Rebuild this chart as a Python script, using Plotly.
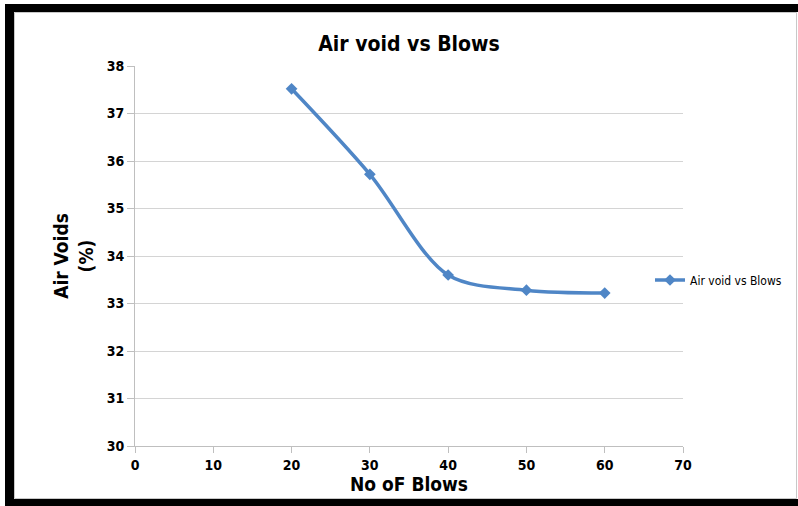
import plotly.graph_objects as go

blows = [20, 30, 40, 50, 60]
air_voids = [37.52, 35.72, 33.6, 33.28, 33.22]
x_ticks = [0, 10, 20, 30, 40, 50, 60, 70]
y_ticks = [30, 31, 32, 33, 34, 35, 36, 37, 38]

W, H = 798, 506
L, R, T, B = 135, 683, 66, 446

def px(x):
    return (x - L) / (R - L)

def py(y):
    return (B - y) / (B - T)

FONT = "Liberation Sans Narrow, DejaVu Sans Condensed, Arial Narrow, sans-serif"
color = "#4F86C6"

fig = go.Figure()
fig.add_trace(go.Scatter(
    x=blows, y=air_voids, mode="lines+markers", name="Air void vs Blows",
    line=dict(color=color, width=3.5, shape="spline", smoothing=0.9),
    marker=dict(symbol="diamond", size=9, color=color),
))

shapes = []
# chart-area frame
shapes.append(dict(type="rect", xref="paper", yref="paper",
                   x0=px(14.5), x1=px(796.5), y0=py(12.5), y1=py(498.5),
                   line=dict(color="#C8C8C8", width=1), layer="below"))
# black border bands
for (x0, x1, y0, y1) in [(5, 798, 4, 12), (5, 14, 4, 506), (5, 798, 499, 506)]:
    shapes.append(dict(type="rect", xref="paper", yref="paper",
                       x0=px(x0), x1=px(x1), y0=py(y0), y1=py(y1),
                       fillcolor="black", line=dict(width=0), layer="above"))

fig.update_layout(
    width=W, height=H,
    margin=dict(l=L, r=W - R, t=T, b=H - B, autoexpand=False),
    paper_bgcolor="white", plot_bgcolor="white",
    title=dict(text="<b>Air void vs Blows</b>", x=px(409), xref="paper",
               y=1 - 44 / H, yanchor="middle", xanchor="center",
               font=dict(family=FONT, size=21, color="black")),
    xaxis=dict(range=[0, 70], tickvals=x_ticks, ticktext=[f"<b>{v}</b>" for v in x_ticks],
               showgrid=False, zeroline=False, showline=True, linecolor="#BFBFBF", linewidth=1,
               ticks="outside", ticklen=6, tickcolor="#BFBFBF", automargin=False,
               tickfont=dict(family=FONT, size=14, color="black"),
               title=dict(text="<b>No oF Blows</b>", standoff=4,
                          font=dict(family=FONT, size=19, color="black"))),
    yaxis=dict(range=[30, 38], tickvals=y_ticks, ticktext=[f"<b>{v}</b>" for v in y_ticks],
               showgrid=True, gridcolor="#D4D4D4", gridwidth=1, zeroline=False,
               showline=True, linecolor="#BFBFBF", linewidth=1, automargin=False,
               ticks="outside", ticklen=7, tickcolor="#BFBFBF",
               tickfont=dict(family=FONT, size=14, color="black"),
               title=dict(text="<b>Air Voids<br>(%)</b>", standoff=8,
                          font=dict(family=FONT, size=19, color="black"))),
    legend=dict(x=650 / W, y=1 - 280 / H, xref="container", yref="container",
                xanchor="left", yanchor="middle",
                font=dict(family=FONT, size=12, color="black"),
                bgcolor="rgba(0,0,0,0)", itemwidth=30),
    showlegend=True,
    shapes=shapes,
)

fig.write_html("out.html")
